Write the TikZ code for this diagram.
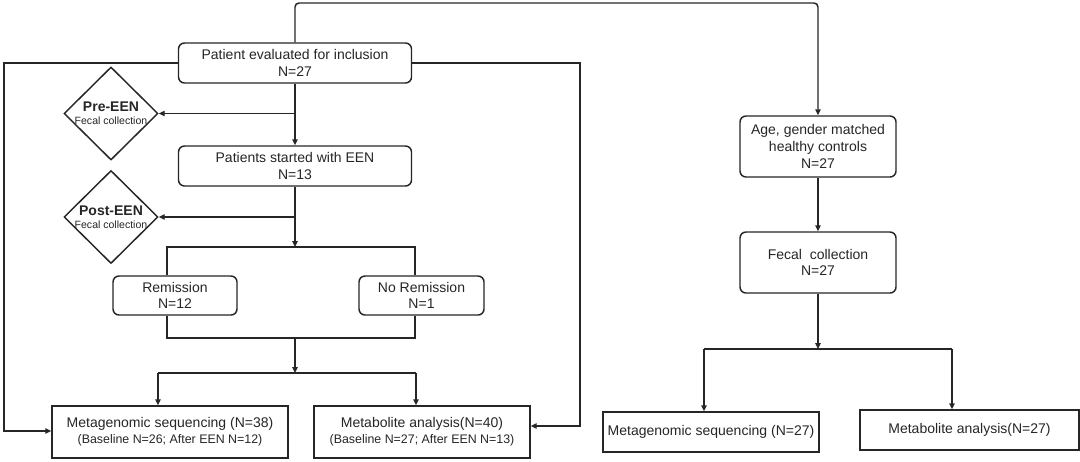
\documentclass[tikz,border=0pt]{standalone}
\usepackage{fontspec}
\setmainfont{Liberation Sans}
\usetikzlibrary{arrows.meta,shapes.geometric}

\begin{document}
\begin{tikzpicture}[x=0.75pt, y=-0.75pt, >={Triangle[length=4.5pt,width=4pt]},
        line width=1.1pt, color=black!85,
        every node/.style={font=\fontsize{10.5}{12.5}\selectfont, align=center},
        roundbox/.style={draw, fill=white, rounded corners=4.5pt, inner sep=1pt},
        plainbox/.style={draw, fill=white, inner sep=1pt},
        collect/.style={draw, fill=white, shape=diamond, inner sep=0pt,
            minimum width=70.5pt, minimum height=69.75pt}]
        \useasboundingbox (0,0) rectangle (1080,461);

        % Draw patient boxes
        \node[roundbox, minimum width=174.75pt, minimum height=30pt] (patient) at (295,63)
            {Patient evaluated for inclusion\\N=27};
        \node[roundbox, minimum width=174.75pt, minimum height=30pt] (started) at (295,166)
            {Patients started with EEN\\N=13};
        \node[roundbox, minimum width=93pt, minimum height=29.25pt] (remit) at (175,295.5)
            {Remission\\N=12};
        \node[roundbox, minimum width=93.75pt, minimum height=29.25pt] (noremit) at (421.5,295.5)
            {No Remission\\N=1};

        % Draw fecal collection diamonds
        \node[collect, label={center:{\textbf{Pre-EEN}\\[-2.5pt]{\fontsize{7.9}{9}\selectfont Fecal collection}}}]
            (pre) at (111,113.5) {};
        \node[collect, label={center:{\textbf{Post-EEN}\\[-2.5pt]{\fontsize{7.9}{9}\selectfont Fecal collection}}}]
            (post) at (111,217) {};

        % Draw analysis boxes
        \node[plainbox, minimum width=177pt, minimum height=39pt] (meta) at (170,432)
            {Metagenomic sequencing (N=38)\\[-0.5pt]{\fontsize{9.3}{11}\selectfont (Baseline N=26; After EEN N=12)}};
        \node[plainbox, minimum width=162pt, minimum height=39pt] (metab) at (422,432)
            {Metabolite analysis(N=40)\\[-0.5pt]{\fontsize{9.3}{11}\selectfont (Baseline N=27; After EEN N=13)}};

        % Draw control boxes
        \node[roundbox, minimum width=117pt, minimum height=45.75pt] (age) at (818,146.5)
            {Age, gender matched\\healthy controls\\N=27};
        \node[roundbox, minimum width=117pt, minimum height=45.75pt] (fecal) at (818,262.5)
            {Fecal\ \ collection\\N=27};
        \node[plainbox, minimum width=162pt, minimum height=30pt] (metaH) at (711,432)
            {Metagenomic sequencing (N=27)};
        \node[plainbox, minimum width=164.25pt, minimum height=30pt] (metabH) at (969.5,430)
            {Metabolite analysis(N=27)};

        % Draw top connector to controls
        \coordinate (topbend) at (818,3);
        \draw[->, rounded corners=3pt] (patient.north) |- (topbend) -- (age.north);

        % Draw side rails
        \coordinate (railL) at (4,431);
        \coordinate (railR) at (580,426);
        \draw[->] (patient.west) -| (railL) -- (railL -| meta.west);
        \draw[->] (patient.east) -| (railR) -- (railR -| metab.east);

        % Draw main trunk
        \draw[->] (patient) -- (started);
        \draw[->] (patient.south |- pre.east) -- (pre.east);
        \draw[->] (started.south |- post.east) -- (post.east);

        % Draw remission split
        \coordinate (splitL) at (167,247);
        \coordinate (splitR) at (415,247);
        \coordinate (joinL) at (167,338);
        \coordinate (joinR) at (415,338);
        \draw[->] (started) -- (started.south |- splitL);
        \draw (splitL |- remit.north) -- (splitL) -- (splitR) -- (splitR |- noremit.north);
        \draw (splitL |- remit.south) -- (joinL) -- (joinR) -- (splitR |- noremit.south);

        % Draw fork to analyses
        \coordinate (forkL) at (158,373);
        \coordinate (forkR) at (416,373);
        \draw[->] (started.south |- joinL) -- (started.south |- forkL);
        \draw (forkL) -- (forkR);
        \draw[->] (forkL) -- (forkL |- meta.north);
        \draw[->] (forkR) -- (forkR |- metab.north);

        % Draw control branch
        \coordinate (forkHL) at (704,349);
        \coordinate (forkHR) at (952,349);
        \draw[->] (age) -- (fecal);
        \draw[->] (fecal) -- (fecal.south |- forkHL);
        \draw (forkHL) -- (forkHR);
        \draw[->] (forkHL) -- (forkHL |- metaH.north);
        \draw[->] (forkHR) -- (forkHR |- metabH.north);
    \end{tikzpicture}
\end{document}
